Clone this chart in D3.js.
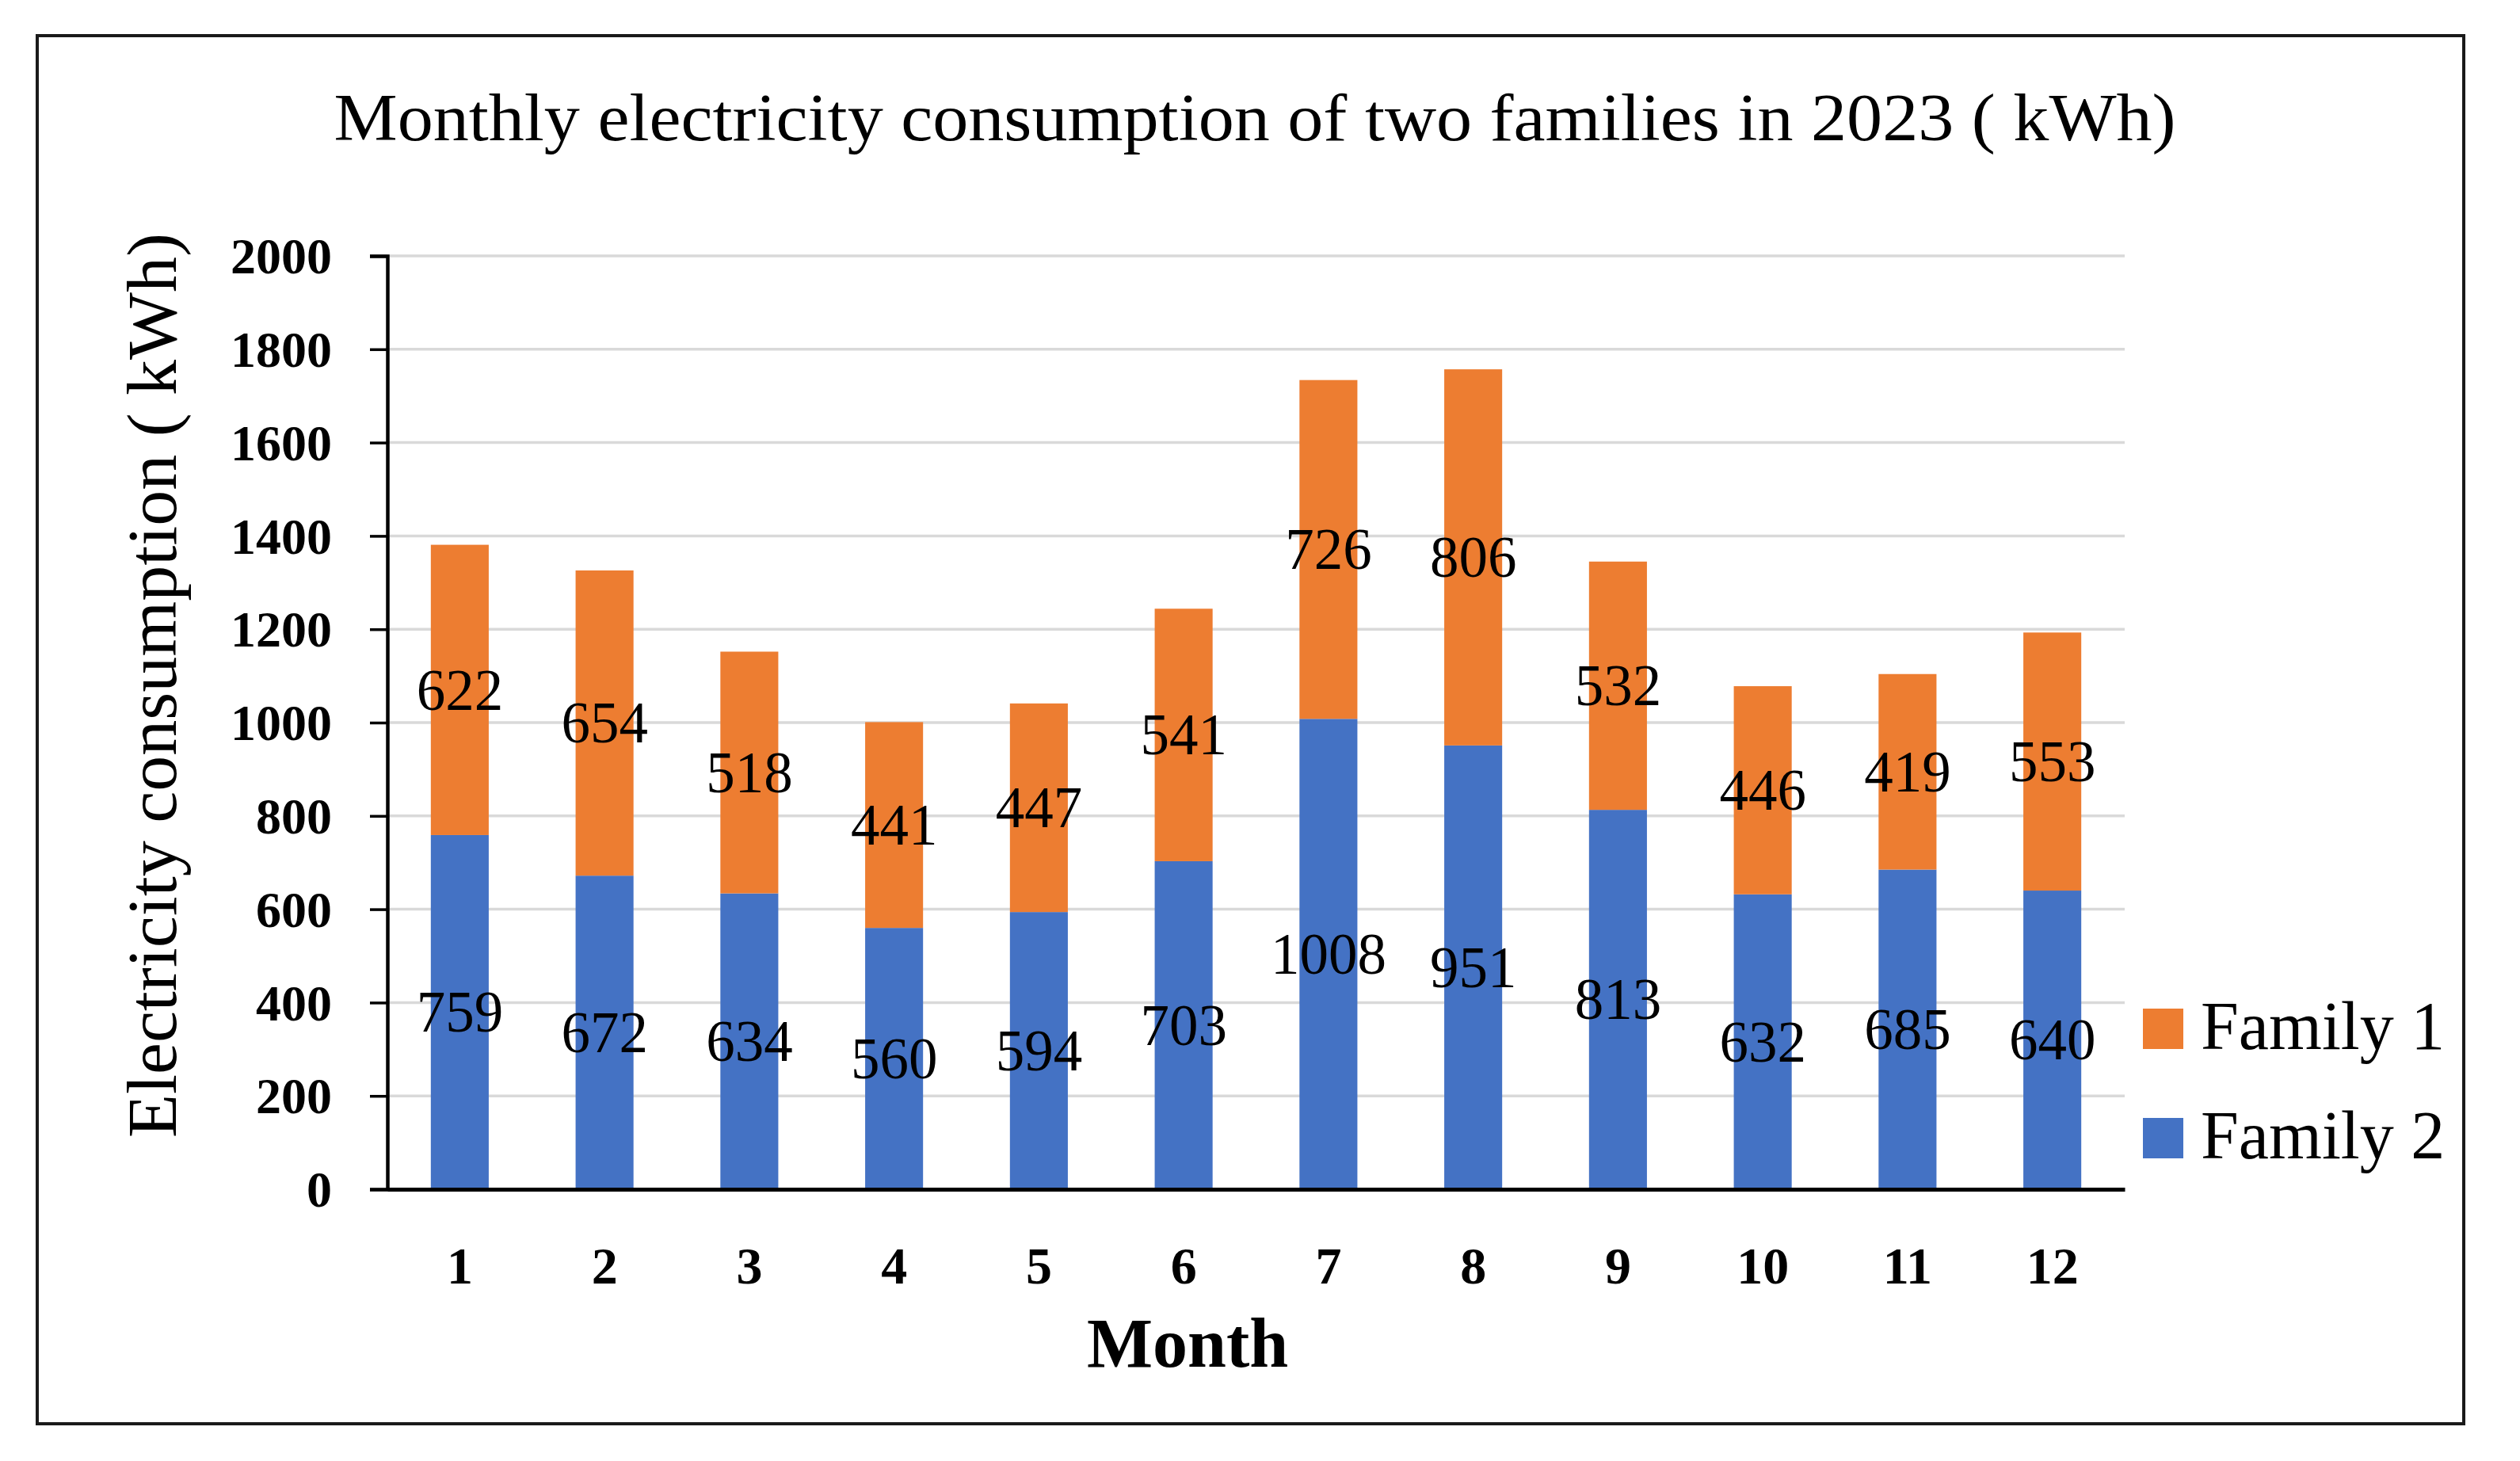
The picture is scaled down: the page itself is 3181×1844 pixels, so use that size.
<!DOCTYPE html>
<html><head><meta charset="utf-8">
<script src="https://cdn.jsdelivr.net/npm/d3@7"></script>
<style>
html,body{margin:0;padding:0;background:#fff;}
svg{display:block;}
text{font-family:"Liberation Serif","Times New Roman",serif;fill:#000;}
</style></head>
<body><svg id="c" width="3181" height="1844"></svg>
<script>
const months = ["1","2","3","4","5","6","7","8","9","10","11","12"];
const family1 = [622,654,518,441,447,541,726,806,532,446,419,553];
const family2 = [759,672,634,560,594,703,1008,951,813,632,685,640];
const seriesNames = ["Family 1","Family 2"];
const seriesColors = ["#ED7D31","#4472C4"];
const yTicks = [0,200,400,600,800,1000,1200,1400,1600,1800,2000];
const titleText = "Monthly electricity consumption of two families in 2023 ( kWh)";
const yTitle = "Electricity consumption ( kWh)";
const xTitle = "Month";

(function(){
const svg = d3.select("#c");
const pL = 489, pR = 2682, pT = 323, pB = 1501;

// frame
svg.append("rect").attr("x",47).attr("y",45).attr("width",3110-47).attr("height",1797-45)
  .attr("fill","#fff").attr("stroke","#1a1a1a").attr("stroke-width",4);

const rows = months.map((m,i)=>({month:m,"Family 1":family1[i],"Family 2":family2[i]}));
const x = d3.scaleBand().domain(months).range([pL,pR]).paddingInner(0.6).paddingOuter(0.3);
const y = d3.scaleLinear().domain([0,2000]).range([pB,pT]);

// gridlines
svg.append("g").selectAll("line").data(yTicks.filter(t=>t>0)).join("line")
  .attr("x1",pL).attr("x2",pR).attr("y1",d=>y(d)).attr("y2",d=>y(d))
  .attr("stroke","#d9d9d9").attr("stroke-width",3.5);

const stack = d3.stack().keys(["Family 2","Family 1"]);
const layers = stack(rows);
const colorOf = k => seriesColors[seriesNames.indexOf(k)];

const g = svg.append("g");
layers.forEach(layer=>{
  g.append("g").selectAll("rect").data(layer).join("rect")
    .attr("x",d=>x(d.data.month)).attr("width",x.bandwidth())
    .attr("y",d=>y(d[1])).attr("height",d=>y(d[0])-y(d[1]))
    .attr("fill",colorOf(layer.key));
});
layers.forEach(layer=>{
  g.append("g").selectAll("text").data(layer).join("text")
    .attr("x",d=>x(d.data.month)+x.bandwidth()/2)
    .attr("y",d=>y((d[0]+d[1])/2))
    .attr("dy","0.34em")
    .attr("text-anchor","middle").attr("font-size",73)
    .text(d=>d.data[layer.key]);
});

// y axis
const yAxis = svg.append("g").attr("transform",`translate(${pL},0)`)
  .call(d3.axisLeft(y).tickValues(yTicks).tickSize(22).tickPadding(48).tickFormat(d3.format("d")));
yAxis.select(".domain").attr("stroke","#000").attr("stroke-width",4.5);
yAxis.selectAll(".tick line").attr("stroke","#000").attr("stroke-width",3.5);
yAxis.selectAll(".tick text").attr("font-family","Liberation Serif, serif").attr("font-weight","bold")
  .attr("font-size",64).attr("fill","#000").attr("dy","0.34em");

// x axis
const xAxis = svg.append("g").attr("transform",`translate(0,${pB})`)
  .call(d3.axisBottom(x).tickSize(0).tickPadding(72));
xAxis.select(".domain").attr("stroke","#000").attr("stroke-width",5);
xAxis.selectAll(".tick text").attr("font-family","Liberation Serif, serif").attr("font-weight","bold")
  .attr("font-size",66).attr("fill","#000");

// titles
svg.append("text").attr("x",1584).attr("y",177).attr("text-anchor","middle")
  .attr("font-size",84).attr("textLength",2325).attr("lengthAdjust","spacingAndGlyphs").text(titleText);
svg.append("text").attr("transform","translate(222,865) rotate(-90)").attr("text-anchor","middle")
  .attr("font-size",88).attr("textLength",1142).attr("lengthAdjust","spacingAndGlyphs").text(yTitle);
svg.append("text").attr("x",1499).attr("y",1725).attr("text-anchor","middle")
  .attr("font-size",88).attr("font-weight","bold").text(xTitle);

// legend
const legY = [1273,1411];
seriesNames.forEach((n,i)=>{
  svg.append("rect").attr("x",2705).attr("y",legY[i]).attr("width",51).attr("height",51).attr("fill",seriesColors[i]);
  svg.append("text").attr("x",2778).attr("y",legY[i]+51).attr("font-size",86).text(n);
});
})();
</script></body></html>
